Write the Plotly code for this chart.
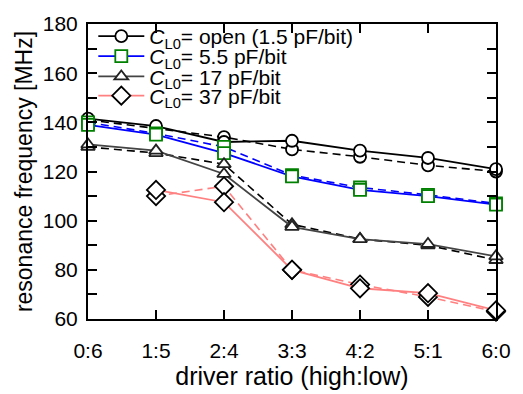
import plotly.graph_objects as go

ratios = ["0:6", "1:5", "2:4", "3:3", "4:2", "5:1", "6:0"]
xpos = [0, 1, 2, 3, 4, 5, 6]
yticks = [60, 80, 100, 120, 140, 160, 180]

open_solid = [141.5, 138.5, 132.0, 132.5, 128.5, 125.5, 121.0]
open_dash = [141.0, 137.5, 134.0, 129.0, 126.0, 122.5, 120.0]
c55_solid = [139.0, 135.0, 127.5, 118.0, 112.5, 110.0, 106.5]
c55_dash = [140.0, 135.5, 130.0, 118.5, 113.5, 110.5, 107.0]
c17_solid = [131.0, 128.5, 119.0, 97.5, 92.5, 90.5, 85.5]
c17_dash = [130.0, 127.5, 123.0, 98.5, 92.5, 90.0, 84.0]
c37_x = [1, 2, 3, 4, 5, 6]
c37_solid = [112.5, 107.5, 80.0, 72.5, 70.5, 63.5]
c37_dash = [110.0, 114.0, 80.0, 74.0, 69.0, 63.0]

names = ["<i>C</i><sub>L0</sub>= open (1.5 pF/bit)",
         "<i>C</i><sub>L0</sub>= 5.5 pF/bit",
         "<i>C</i><sub>L0</sub>= 17 pF/bit",
         "<i>C</i><sub>L0</sub>= 37 pF/bit"]
legend_ids = ["legend", "legend2", "legend3", "legend4"]
legend_rows = [0.958, 0.890, 0.821, 0.756]

FONT = "Liberation Sans, Arial, Helvetica, sans-serif"
DASH = "8px,5px"

fig = go.Figure()

def add_pair(i, x, ysol, ydash, lcol, dcol, sym, mcol, msize):
    fig.add_trace(go.Scatter(
        x=x, y=ydash, mode="lines+markers", showlegend=False,
        line=dict(color=dcol, width=1.6, dash=DASH),
        marker=dict(symbol=sym, size=msize, color="white",
                    line=dict(color=mcol, width=1.8)),
        cliponaxis=False, hoverinfo="skip"))
    fig.add_trace(go.Scatter(
        x=x, y=ysol, mode="lines+markers", name=names[i],
        legend=legend_ids[i],
        line=dict(color=lcol, width=1.8),
        marker=dict(symbol=sym, size=msize, color="white",
                    line=dict(color=mcol, width=1.8)),
        cliponaxis=False))

add_pair(0, xpos, open_solid, open_dash, "black", "black",
         "circle", "black", 12)
add_pair(1, xpos, c55_solid, c55_dash, "#0000ff", "#0000ff",
         "square", "#008000", 12)
add_pair(2, xpos, c17_solid, c17_dash, "#444444", "black",
         "triangle-up", "#222222", 12)
add_pair(3, c37_x, c37_solid, c37_dash, "#ff8080", "#ff8080",
         "diamond", "black", 14)

legend_common = dict(x=0.013, xanchor="left", yanchor="middle",
                     bgcolor="rgba(0,0,0,0)", borderwidth=0,
                     font=dict(family=FONT, size=21, color="black"),
                     itemwidth=46)

fig.update_layout(
    width=523, height=394,
    margin=dict(l=88, r=14, t=16, b=68),
    paper_bgcolor="white", plot_bgcolor="white",
    font=dict(family=FONT, size=20, color="black"),
    showlegend=True,
    legend=dict(y=legend_rows[0], **legend_common),
    legend2=dict(y=legend_rows[1], **legend_common),
    legend3=dict(y=legend_rows[2], **legend_common),
    legend4=dict(y=legend_rows[3], **legend_common),
    xaxis=dict(
        range=[0, 6], tickmode="array", tickvals=xpos, ticktext=ratios,
        showgrid=False, zeroline=False,
        showline=True, linecolor="black", linewidth=2, mirror="allticks",
        ticks="inside", ticklen=9, tickwidth=2, tickcolor="black",
        tickfont=dict(family=FONT, size=21),
        ticklabelstandoff=12, ticklabeloverflow="allow",
        title=dict(text="driver ratio (high:low)",
                   font=dict(family=FONT, size=25), standoff=2)),
    yaxis=dict(
        range=[60, 180], tickmode="array", tickvals=yticks,
        showgrid=False, zeroline=False,
        showline=True, linecolor="black", linewidth=2, mirror="allticks",
        ticks="inside", ticklen=9, tickwidth=2, tickcolor="black",
        tickfont=dict(family=FONT, size=21),
        ticklabelstandoff=4, ticklabeloverflow="allow",
        minor=dict(dtick=10, tick0=60, ticks="inside", ticklen=9,
                   tickwidth=2, tickcolor="black"),
        title=dict(text="resonance frequency [MHz]",
                   font=dict(family=FONT, size=23), standoff=4)),
)

fig.write_html("out.html")
